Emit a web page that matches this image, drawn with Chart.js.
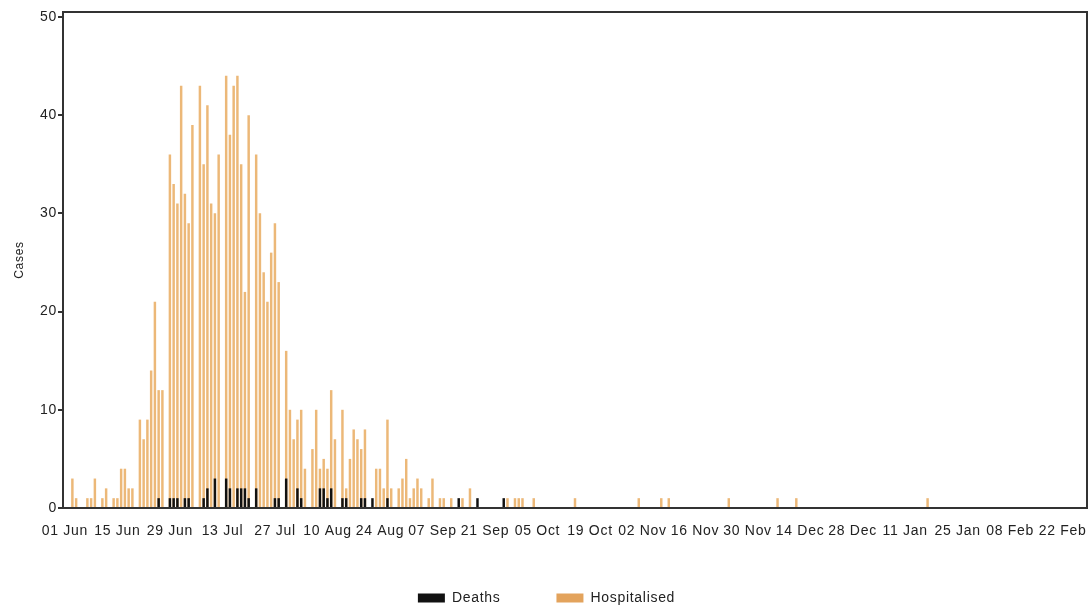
<!DOCTYPE html>
<html>
<head>
<meta charset="utf-8">
<script src="https://cdn.jsdelivr.net/npm/chart.js@4.4.0/dist/chart.umd.min.js"></script>
<style>
html,body{margin:0;padding:0;background:#ffffff;}
#wrap{width:1090px;height:608px;position:relative;}
</style>
</head>
<body>
<div id="wrap"><canvas id="c" width="1090" height="608"></canvas></div>
<script>
// ---- data ----
const startYear = 2009, startMonth = 5, startDay = 1;   // 01 Jun 2009
const dayCount = 273;                                    // through 28 Feb 2010
const tickEvery = 14;
const yTicks = [0, 10, 20, 30, 40, 50];

const hospDates = ['03 Jun','04 Jun','07 Jun','08 Jun','09 Jun','11 Jun','12 Jun','14 Jun','15 Jun','16 Jun',
  '17 Jun','18 Jun','19 Jun','21 Jun','22 Jun','23 Jun','24 Jun','25 Jun','26 Jun','27 Jun',
  '29 Jun','30 Jun','01 Jul','02 Jul','03 Jul','04 Jul','05 Jul','07 Jul','08 Jul','09 Jul',
  '10 Jul','11 Jul','12 Jul','14 Jul','15 Jul','16 Jul','17 Jul','18 Jul','19 Jul','20 Jul',
  '22 Jul','23 Jul','24 Jul','25 Jul','26 Jul','27 Jul','28 Jul','30 Jul','31 Jul','01 Aug',
  '02 Aug','03 Aug','04 Aug','06 Aug','07 Aug','08 Aug','09 Aug','10 Aug','11 Aug','12 Aug',
  '14 Aug','15 Aug','16 Aug','17 Aug','18 Aug','19 Aug','20 Aug','23 Aug','24 Aug','25 Aug',
  '26 Aug','27 Aug','29 Aug','30 Aug','31 Aug','01 Sep','02 Sep','03 Sep','04 Sep','06 Sep',
  '07 Sep','09 Sep','10 Sep','12 Sep','15 Sep','17 Sep','27 Sep','29 Sep','30 Sep','01 Oct',
  '04 Oct','15 Oct','01 Nov','07 Nov','09 Nov','25 Nov','08 Dec','13 Dec','17 Jan'];
const hospCounts = [3,1,1,1,3,1,2,1,1,4,
  4,2,2,9,7,9,14,21,12,12,
  36,33,31,43,32,29,39,43,35,41,
  31,30,36,44,38,43,44,35,22,40,
  36,30,24,21,26,29,23,16,10,7,
  9,10,4,6,10,4,5,4,12,7,
  10,2,5,8,7,6,8,4,4,2,
  9,2,2,3,5,1,2,3,2,1,
  3,1,1,1,1,2,1,1,1,1,
  1,1,1,1,1,1,1,1,1];

const deathDates = ['26 Jun','29 Jun','30 Jun','01 Jul','03 Jul','04 Jul','08 Jul','09 Jul','11 Jul','14 Jul',
  '15 Jul','17 Jul','18 Jul','19 Jul','20 Jul','22 Jul','27 Jul','28 Jul','30 Jul','02 Aug',
  '03 Aug','08 Aug','09 Aug','10 Aug','11 Aug','14 Aug','15 Aug','19 Aug','20 Aug','22 Aug',
  '26 Aug','14 Sep','19 Sep','26 Sep'];
const deathCounts = [1,1,1,1,1,1,1,2,3,3,
  2,2,2,2,1,2,1,1,3,2,
  1,2,2,1,2,1,1,1,1,1,
  1,1,1,1];

// ---- build ----
const monthNames = ['Jan','Feb','Mar','Apr','May','Jun','Jul','Aug','Sep','Oct','Nov','Dec'];
const labels = [];
for (let i = 0; i < dayCount; i++) {
  const d = new Date(Date.UTC(startYear, startMonth, startDay + i));
  labels.push(String(d.getUTCDate()).padStart(2,'0') + ' ' + monthNames[d.getUTCMonth()]);
}
function series(dates, counts) {
  const arr = new Array(dayCount).fill(0);
  dates.forEach((d, k) => { const idx = labels.indexOf(d); if (idx >= 0) arr[idx] = counts[k]; });
  return arr;
}
const deaths = series(deathDates, deathCounts);
const hospitalised = series(hospDates, hospCounts);

const BAR_ORANGE = '#ECB878';
const SWATCH_ORANGE = '#E3A35C';

Chart.defaults.font.family = "'Liberation Sans', Arial, sans-serif";
Chart.defaults.color = '#222';

const LETTER_SPACING = '0.7px';
const spacingPlugin = {
  id: 'spacing',
  beforeUpdate(chart) { chart.ctx.letterSpacing = LETTER_SPACING; },
  beforeLayout(chart) { chart.ctx.letterSpacing = LETTER_SPACING; },
  beforeDraw(chart) { chart.ctx.letterSpacing = LETTER_SPACING; }
};

const LEGEND_TOP = 535;
const LEGEND_DX = 3;
const legendShift = {
  id: 'legendShift',
  afterLayout(chart) {
    const lg = chart.legend;
    if (!lg) return;
    const dy = lg.top - LEGEND_TOP;
    lg.top -= dy; lg.bottom -= dy;
    lg.left += LEGEND_DX; lg.right += LEGEND_DX;
  }
};

const framePlugin = {
  id: 'frame',
  afterDatasetsDraw(chart) {
    const {ctx, chartArea: a} = chart;
    ctx.save();
    ctx.strokeStyle = '#333';
    ctx.lineWidth = 2;
    ctx.strokeRect(a.left, a.top, a.right - a.left, a.bottom - a.top);
    ctx.restore();
  }
};

new Chart(document.getElementById('c'), {
  type: 'bar',
  data: {
    labels: labels,
    datasets: [
      { label: 'Deaths', data: deaths, backgroundColor: '#111111', borderWidth: 0,
        barPercentage: 0.66, categoryPercentage: 1.0 },
      { label: 'Hospitalised', data: hospitalised, backgroundColor: BAR_ORANGE, borderWidth: 0,
        barPercentage: 0.66, categoryPercentage: 1.0 }
    ]
  },
  options: {
    responsive: false,
    animation: false,
    devicePixelRatio: 1,
    layout: { padding: { top: 12, right: 3, left: 0, bottom: -14 } },
    plugins: {
      tooltip: { enabled: false },
      legend: {
        position: 'bottom',
        labels: {
          boxWidth: 27, boxHeight: 9, padding: 56, color: '#222', font: { size: 14 },
          generateLabels(chart) {
            const items = Chart.defaults.plugins.legend.labels.generateLabels(chart);
            items.forEach(it => {
              if (it.text === 'Hospitalised') it.fillStyle = SWATCH_ORANGE;
              it.strokeStyle = it.fillStyle; it.lineWidth = 0;
            });
            return items;
          }
        }
      }
    },
    scales: {
      x: {
        stacked: true,
        offset: true,
        grid: { display: true, drawOnChartArea: false, drawTicks: true, tickLength: 14,
                tickColor: 'rgba(0,0,0,0)', color: 'rgba(0,0,0,0)' },
        border: { display: false },
        ticks: {
          autoSkip: false, maxRotation: 0, minRotation: 0, padding: 1,
          color: '#222', font: { size: 14 },
          callback: (v, i) => (i % tickEvery === 0 ? labels[i] : '')
        },
        afterFit: s => { s.height = 34; }
      },
      y: {
        stacked: false,
        min: 0, max: 50.5,
        afterBuildTicks: s => { s.ticks = yTicks.map(v => ({ value: v })); },
        grid: { drawOnChartArea: false, drawTicks: true, tickLength: 5, color: '#333', lineWidth: 2 },
        border: { display: false },
        ticks: { padding: 1, color: '#222', font: { size: 14 } },
        title: { display: true, text: 'Cases', color: '#222', font: { size: 12 }, padding: { top: 12, bottom: 4 } },
        afterFit: s => { s.width = 63; }
      }
    }
  },
  plugins: [spacingPlugin, legendShift, framePlugin]
});
</script>
</body>
</html>
